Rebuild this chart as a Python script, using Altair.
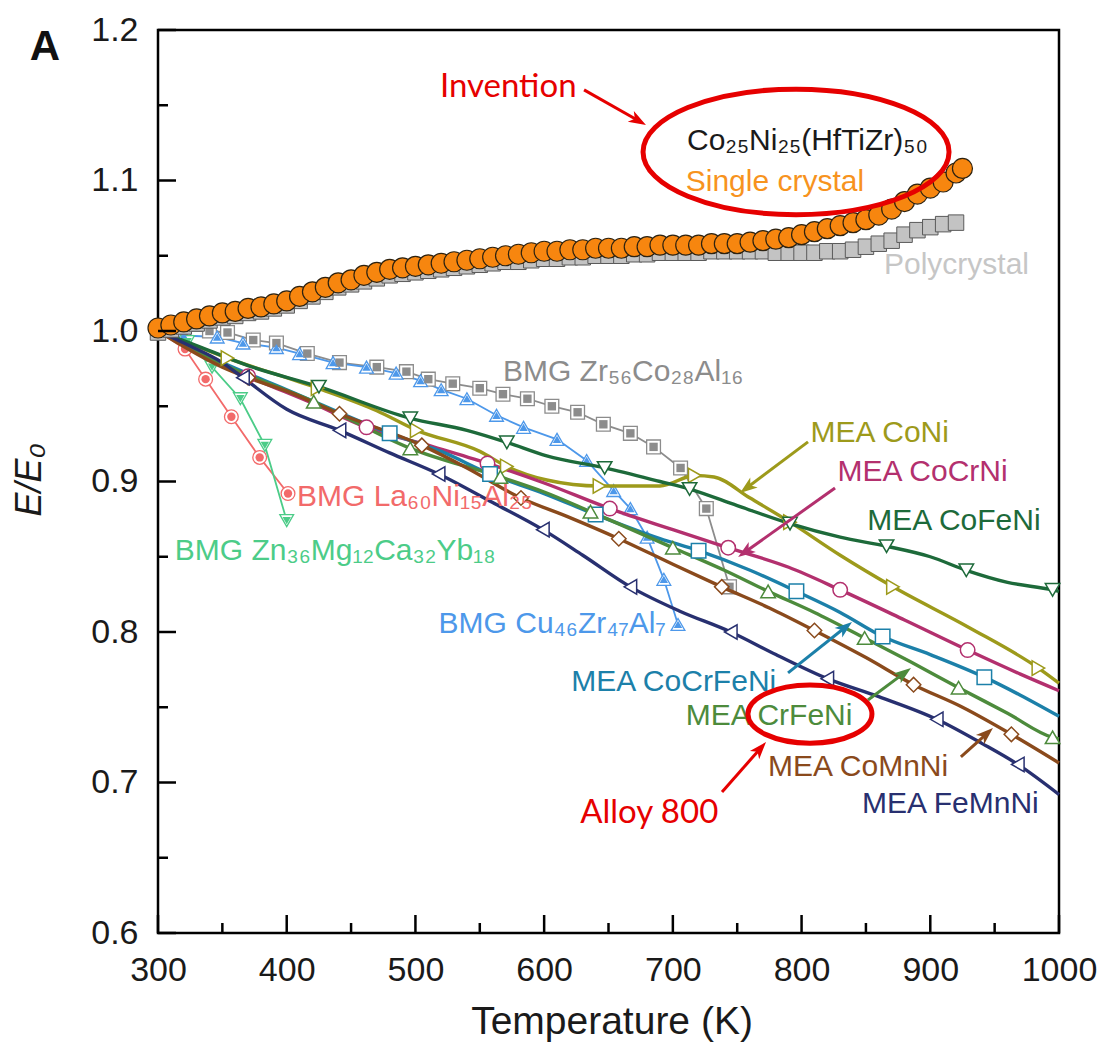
import math
import altair as alt
import pandas as pd

# ---------------- plot geometry ----------------
W, H = 901, 903
X_DOMAIN = [300, 1000]
Y_DOMAIN = [0.6, 1.2]
KX = W / (X_DOMAIN[1] - X_DOMAIN[0])
KY = H / (Y_DOMAIN[1] - Y_DOMAIN[0])

# ---------------- tick values ----------------
X_MAJOR = [300, 400, 500, 600, 700, 800, 900, 1000]
X_MINOR = [350, 450, 550, 650, 750, 850, 950]
Y_MAJOR = [0.6, 0.7, 0.8, 0.9, 1.0, 1.1, 1.2]
Y_MINOR = [0.65, 0.75, 0.85, 0.95, 1.05, 1.15]

# ---------------- Co25Ni25(HfTiZr)50 single crystal ----------------
SC_T = [300, 310, 320, 330, 340, 350, 360, 370, 380, 390, 400, 410, 420, 430, 440, 450,
        460, 470, 480, 490, 500, 510, 520, 530, 540, 550, 560, 570, 580, 590, 600, 610,
        620, 630, 640, 650, 660, 670, 680, 690, 700, 710, 720, 730, 740, 750, 760, 770,
        780, 790, 800, 810, 820, 830, 840, 850, 860, 870, 880, 890, 900, 910, 920, 925]
SC_E = [1.002, 1.004, 1.006, 1.008, 1.010, 1.012, 1.013, 1.015, 1.016, 1.018, 1.020, 1.023,
        1.026, 1.029, 1.032, 1.034, 1.037, 1.039, 1.041, 1.042, 1.043, 1.044, 1.045, 1.046,
        1.047, 1.048, 1.049, 1.050, 1.051, 1.052, 1.053, 1.053, 1.054, 1.054, 1.055, 1.055,
        1.055, 1.056, 1.056, 1.057, 1.057, 1.057, 1.057, 1.058, 1.058, 1.058, 1.059, 1.060,
        1.061, 1.062, 1.064, 1.066, 1.068, 1.070, 1.072, 1.074, 1.077, 1.081, 1.086, 1.091,
        1.095, 1.099, 1.105, 1.108]

# ---------------- polycrystal ----------------
PC_T = [300, 310, 320, 330, 340, 350, 360, 370, 380, 390, 400, 410, 420, 430, 440, 450,
        460, 470, 480, 490, 500, 510, 520, 530, 540, 550, 560, 570, 580, 590, 600, 610,
        620, 630, 640, 650, 660, 670, 680, 690, 700, 710, 720, 730, 740, 750, 760, 770,
        780, 790, 800, 810, 820, 830, 840, 850, 860, 870, 880, 890, 900, 910, 920]
PC_E = [0.999, 1.001, 1.003, 1.005, 1.007, 1.009, 1.010, 1.012, 1.013, 1.015, 1.017, 1.020,
        1.023, 1.026, 1.029, 1.031, 1.033, 1.035, 1.037, 1.038, 1.039, 1.040, 1.041, 1.042,
        1.043, 1.044, 1.045, 1.046, 1.046, 1.047, 1.048, 1.048, 1.049, 1.049, 1.050, 1.050,
        1.050, 1.051, 1.051, 1.052, 1.052, 1.052, 1.052, 1.053, 1.053, 1.053, 1.053, 1.053,
        1.052, 1.052, 1.052, 1.052, 1.053, 1.053, 1.054, 1.056, 1.058, 1.060, 1.064, 1.067,
        1.069, 1.071, 1.072]

# ---------------- MEA series (line points, marker temperatures) ----------------
CONI_T = [300, 354, 424, 470, 501, 550, 571, 602, 643, 690, 717, 732, 760, 791, 830, 871, 930, 984, 1000]
CONI_E = [1.000, 0.982, 0.962, 0.947, 0.934, 0.920, 0.910, 0.901, 0.897, 0.897, 0.904, 0.903,
          0.889, 0.873, 0.851, 0.830, 0.803, 0.776, 0.766]
CONI_MK = [354, 424, 501, 571, 643, 717, 791, 871, 984]

COCRNI_T = [300, 370, 420, 462, 514, 556, 600, 651, 700, 743, 790, 830, 880, 929, 970, 1000]
COCRNI_E = [1.000, 0.970, 0.952, 0.936, 0.923, 0.912, 0.899, 0.882, 0.868, 0.856, 0.843,
            0.828, 0.808, 0.788, 0.772, 0.761]
COCRNI_MK = [370, 462, 556, 651, 743, 830, 929]

COFENI_T = [300, 325, 370, 425, 496, 540, 571, 602, 647, 690, 713, 750, 791, 830, 866, 900,
            928, 960, 995, 1000]
COFENI_E = [1.000, 0.992, 0.977, 0.963, 0.942, 0.934, 0.926, 0.917, 0.909, 0.900, 0.895,
            0.884, 0.872, 0.863, 0.857, 0.850, 0.841, 0.833, 0.828, 0.827]
COFENI_MK = [425, 496, 571, 647, 713, 791, 866, 928, 995]

COCRFENI_T = [300, 350, 400, 480, 520, 558, 600, 640, 690, 720, 760, 796, 830, 863, 900, 942, 970, 1000]
COCRFENI_E = [1.000, 0.979, 0.961, 0.932, 0.920, 0.905, 0.892, 0.878, 0.862, 0.854, 0.841,
              0.827, 0.813, 0.797, 0.785, 0.770, 0.758, 0.744]
COCRFENI_MK = [480, 558, 640, 720, 796, 863, 942]

CRFENI_T = [300, 350, 421, 496, 566, 600, 636, 700, 740, 774, 810, 849, 885, 922, 960, 995, 1000]
CRFENI_E = [1.000, 0.978, 0.953, 0.922, 0.903, 0.893, 0.880, 0.856, 0.841, 0.827, 0.813,
            0.796, 0.780, 0.763, 0.746, 0.730, 0.729]
CRFENI_MK = [421, 496, 566, 636, 700, 774, 849, 922, 995]

COMNNI_T = [300, 350, 370, 400, 441, 505, 540, 582, 620, 658, 700, 738, 775, 810, 850, 887, 925, 963, 1000]
COMNNI_E = [1.000, 0.976, 0.969, 0.960, 0.945, 0.924, 0.909, 0.889, 0.876, 0.862, 0.845,
            0.830, 0.816, 0.801, 0.783, 0.765, 0.750, 0.732, 0.713]
COMNNI_MK = [370, 441, 505, 582, 658, 738, 810, 887, 963]

FEMNNI_T = [300, 325, 350, 366, 400, 441, 480, 518, 560, 599, 630, 667, 705, 745, 780, 820,
            860, 905, 940, 968, 1000]
FEMNNI_E = [1.000, 0.990, 0.979, 0.969, 0.948, 0.934, 0.919, 0.905, 0.886, 0.868, 0.851,
            0.830, 0.814, 0.800, 0.785, 0.769, 0.757, 0.742, 0.726, 0.712, 0.692]
FEMNNI_MK = [366, 441, 518, 599, 667, 745, 820, 905, 968]

# ---------------- BMG series ----------------
ZR_T = [300, 320, 340, 354, 374, 392, 416, 441, 470, 493, 510, 529, 550, 568, 587, 606, 626,
        646, 667, 685, 706, 726, 744]
ZR_E = [1.000, 1.000, 1.000, 0.999, 0.994, 0.992, 0.985, 0.979, 0.976, 0.973, 0.968, 0.965,
        0.962, 0.958, 0.955, 0.950, 0.946, 0.938, 0.932, 0.923, 0.909, 0.882, 0.830]
CU_T = [300, 320, 346, 366, 392, 410, 436, 462, 485, 504, 520, 540, 563, 584, 610, 633, 654,
        667, 680, 693, 704]
CU_E = [1.000, 0.997, 0.996, 0.992, 0.989, 0.985, 0.979, 0.976, 0.972, 0.967, 0.961, 0.955,
        0.944, 0.936, 0.928, 0.914, 0.894, 0.882, 0.863, 0.835, 0.805]
LA_T = [300, 321, 337, 357, 379, 401]
LA_E = [1.000, 0.988, 0.968, 0.943, 0.916, 0.892]
ZN_T = [300, 323, 342, 364, 383, 400]
ZN_E = [1.000, 0.993, 0.976, 0.955, 0.924, 0.874]

# ---------------- series styling ----------------
MEA = [("CoNi", CONI_T, CONI_E, CONI_MK, "#9d9a1b", "triangle-right"),
       ("CoCrNi", COCRNI_T, COCRNI_E, COCRNI_MK, "#b3306e", "circle"),
       ("CoFeNi", COFENI_T, COFENI_E, COFENI_MK, "#1d6a3a", "triangle-down"),
       ("CoCrFeNi", COCRFENI_T, COCRFENI_E, COCRFENI_MK, "#1c80a9", "square"),
       ("CrFeNi", CRFENI_T, CRFENI_E, CRFENI_MK, "#4d8b3c", "triangle-up"),
       ("CoMnNi", COMNNI_T, COMNNI_E, COMNNI_MK, "#8a4a1c", "diamond"),
       ("FeMnNi", FEMNNI_T, FEMNNI_E, FEMNNI_MK, "#283070", "triangle-left")]
BMG = [("Zr", ZR_T, ZR_E, "#8c8c8c", "square"),
       ("Cu", CU_T, CU_E, "#4d98ea", "triangle-up"),
       ("La", LA_T, LA_E, "#f26a6a", "circle"),
       ("Zn", ZN_T, ZN_E, "#4ccc88", "triangle-down")]

names = [m[0] for m in MEA] + [b[0] for b in BMG]
colors = [m[4] for m in MEA] + [b[3] for b in BMG]
shapes = [m[5] for m in MEA] + [b[4] for b in BMG]
cscale = alt.Scale(domain=names, range=colors)
sscale = alt.Scale(domain=names, range=shapes)

rows = []
for name, T, E, MK, _, _ in MEA:
    for t, e in zip(T, E):
        rows.append({"series": name, "T": t, "E": e, "mk": t in MK})
mea_df = pd.DataFrame(rows)
rows = []
for name, T, E, _, _ in BMG:
    for t, e in zip(T, E):
        rows.append({"series": name, "T": t, "E": e, "mk": t > 300})
bmg_df = pd.DataFrame(rows)
sc_df = pd.DataFrame({"T": SC_T, "E": SC_E})
pc_df = pd.DataFrame({"T": PC_T, "E": PC_E})

FONT = "Liberation Sans"
RED = "#e60000"

xs = alt.Scale(domain=X_DOMAIN, nice=False, zero=False)
ys = alt.Scale(domain=Y_DOMAIN, nice=False, zero=False)
AX = alt.Axis(values=X_MAJOR, format="d", ticks=False, domain=False, grid=False, labelFontSize=34,
              labelFont=FONT, labelColor="#1a1a1a", labelPadding=20, labelFlush=False,
              labelOverlap=False, title=None)
AY = alt.Axis(values=Y_MAJOR, format=".1f", ticks=False, domain=False, grid=False,
              labelFontSize=34, labelFont=FONT, labelColor="#1a1a1a", labelPadding=20,
              labelFlush=False, labelOverlap=False, title=None)


def X(f="T"):
    return alt.X(f"{f}:Q", scale=xs, axis=AX)


def Y(f="E"):
    return alt.Y(f"{f}:Q", scale=ys, axis=AY)


# BMG
bmg_lines = alt.Chart(bmg_df).mark_line(strokeWidth=1.8).encode(
    x=X(), y=Y(), color=alt.Color("series:N", scale=cscale, legend=None), detail="series:N")
bmg_open = alt.Chart(bmg_df).transform_filter("datum.mk").mark_point(
    filled=True, fill="white", size=190, strokeWidth=1.3, opacity=1).encode(
    x=X(), y=Y(), stroke=alt.Stroke("series:N", scale=cscale, legend=None),
    shape=alt.Shape("series:N", scale=sscale, legend=None))
bmg_half = alt.Chart(bmg_df).transform_filter("datum.mk").mark_point(
    filled=True, size=70, opacity=1, dx=3).encode(
    x=X(), y=Y(), color=alt.Color("series:N", scale=cscale, legend=None),
    shape=alt.Shape("series:N", scale=sscale, legend=None))

# MEA
mea_lines = alt.Chart(mea_df).mark_line(strokeWidth=3.4, interpolate="monotone").encode(
    x=X(), y=Y(), color=alt.Color("series:N", scale=cscale, legend=None), detail="series:N")
mea_pts = alt.Chart(mea_df).transform_filter("datum.mk").mark_point(
    filled=True, fill="white", size=210, strokeWidth=1.5, opacity=1).encode(
    x=X(), y=Y(), stroke=alt.Stroke("series:N", scale=cscale, legend=None),
    shape=alt.Shape("series:N", scale=sscale, legend=None))

# polycrystal and single crystal
pc_pts = alt.Chart(pc_df).mark_point(shape="square", filled=True, fill="#c3c3c3", stroke="#5a5a5a",
                                     strokeWidth=1, size=240, opacity=1).encode(x=X(), y=Y())
sc_pts = alt.Chart(sc_df).mark_point(shape="circle", filled=True, fill="#f7860f", stroke="#2d2210",
                                     strokeWidth=1.2, size=400, opacity=1).encode(x=X(), y=Y())

# ---------------- annotations ----------------
LABELS = [("BMG Zr₅₆Co₂₈Al₁₆", 568, 0.973, "#8c8c8c"),
          ("MEA CoNi", 807, 0.932, "#9d9a1b"),
          ("MEA CoCrNi", 828, 0.906, "#b3306e"),
          ("MEA CoFeNi", 851, 0.874, "#1d6a3a"),
          ("BMG La₆₀Ni₁₅Al₂₅", 408, 0.890, "#f26a6a"),
          ("BMG Zn₃₆Mg₁₂Ca₃₂Yb₁₈", 313, 0.854, "#4ccc88"),
          ("BMG Cu₄₆Zr₄₇Al₇", 518, 0.805, "#4d98ea"),
          ("MEA CoCrFeNi", 621, 0.767, "#1c80a9"),
          ("MEA CrFeNi", 710, 0.744, "#4d8b3c"),
          ("MEA CoMnNi", 774, 0.710, "#8a4a1c"),
          ("MEA FeMnNi", 847, 0.686, "#283070"),
          ("Co₂₅Ni₂₅(HfTiZr)₅₀", 711, 1.126, "#1a1a1a"),
          ("Single crystal", 710, 1.099, "#f7931e"),
          ("Polycrystal", 864, 1.044, "#c6c6c6")]
lbl_df = pd.DataFrame(LABELS, columns=["label", "T", "E", "color"])
labels = alt.Chart(lbl_df).mark_text(align="left", baseline="middle", font=FONT, fontSize=30).encode(
    x=X(), y=Y(), text="label:N", color=alt.Color("color:N", scale=None))

RED_LABELS = [("Invention", 519, 1.162), ("Alloy 800", 628, 0.680)]
red_df = pd.DataFrame(RED_LABELS, columns=["label", "T", "E"])
red_labels = alt.Chart(red_df).mark_text(align="left", baseline="middle", font="Lato", fontSize=33,
                                         color=RED).encode(x=X(), y=Y(), text="label:N")

ARROWS = [(631.0, 1.1602, 679.1, 1.1369, RED),
          (738.2, 0.6937, 772.4, 0.7269, RED),
          (805.0, 0.9263, 752.2, 0.8924, "#9d9a1b"),
          (826.0, 0.8957, 750.7, 0.8498, "#b3306e"),
          (789.5, 0.7728, 839.2, 0.8067, "#1c80a9"),
          (851.6, 0.7548, 885.0, 0.7761, "#4d8b3c"),
          (923.8, 0.7170, 948.7, 0.7362, "#8a4a1c")]
arows = []
for t1, e1, t2, e2, col in ARROWS:
    dx = (t2 - t1) * KX
    dy = -(e2 - e1) * KY
    L = math.hypot(dx, dy)
    ux, uy = dx / L, dy / L
    ang = math.degrees(math.atan2(dx, -dy)) % 360
    arows.append({"T": t1, "E": e1, "Tb": t2 - 9 * ux / KX, "Eb": e2 + 9 * uy / KY,
                  "T2": t2, "E2": e2, "ang": ang, "color": col})
arr_df = pd.DataFrame(arows)
ARROW_PATH = "M 0 0 L 0.6 1.7 L 0 1.25 L -0.6 1.7 Z"
arrow_lines = alt.Chart(arr_df).mark_rule(strokeWidth=3).encode(
    x=X(), y=Y(), x2="Tb:Q", y2="Eb:Q", color=alt.Color("color:N", scale=None))
arrow_heads = alt.Chart(arr_df).mark_point(shape=ARROW_PATH, filled=True, size=420, opacity=1).encode(
    x=X("T2"), y=Y("E2"), angle=alt.Angle("ang:Q", scale=None), color=alt.Color("color:N", scale=None))


def ellipse_path(r):
    k = 0.5523
    return (f"M -1 0 C -1 {-k*r:.4f} {-k:.4f} {-r:.4f} 0 {-r:.4f} "
            f"C {k:.4f} {-r:.4f} 1 {-k*r:.4f} 1 0 "
            f"C 1 {k*r:.4f} {k:.4f} {r:.4f} 0 {r:.4f} "
            f"C {-k:.4f} {r:.4f} -1 {k*r:.4f} -1 0 Z")


ell1 = alt.Chart(pd.DataFrame({"T": [795.7], "E": [1.119]})).mark_point(
    shape=ellipse_path(0.41), size=306 ** 2, filled=False, color=RED, strokeWidth=5, opacity=1
).encode(x=X(), y=Y())
ell2 = alt.Chart(pd.DataFrame({"T": [806.5], "E": [0.7455]})).mark_point(
    shape=ellipse_path(0.47), size=124 ** 2, filled=False, color=RED, strokeWidth=5, opacity=1
).encode(x=X(), y=Y())

# ---------------- inward ticks ----------------
ytick_major = alt.Chart(pd.DataFrame({"E": Y_MAJOR})).mark_rule(strokeWidth=2.5, color="black").encode(
    y=Y(), x=alt.value(0), x2=alt.value(18))
ytick_minor = alt.Chart(pd.DataFrame({"E": Y_MINOR})).mark_rule(strokeWidth=2.5, color="black").encode(
    y=Y(), x=alt.value(0), x2=alt.value(10))
xtick_major = alt.Chart(pd.DataFrame({"T": X_MAJOR})).mark_rule(strokeWidth=2.5, color="black").encode(
    x=X(), y=alt.value(H), y2=alt.value(H - 18))
xtick_minor = alt.Chart(pd.DataFrame({"T": X_MINOR})).mark_rule(strokeWidth=2.5, color="black").encode(
    x=X(), y=alt.value(H), y2=alt.value(H - 10))

# ---------------- titles ----------------
one = pd.DataFrame({"a": [0]})
ytitle = alt.Chart(one).mark_text(text="E/E₀", font=FONT, fontSize=36, fontStyle="italic", angle=270,
                                  align="center", baseline="middle", color="#1a1a1a").encode(
    x=alt.value(-128), y=alt.value(450))
xtitle = alt.Chart(one).mark_text(text="Temperature (K)", font=FONT, fontSize=39, align="center",
                                  baseline="middle", color="#1a1a1a").encode(
    x=alt.value(454), y=alt.value(992))
panel = alt.Chart(one).mark_text(text="A", font=FONT, fontSize=42, fontWeight="bold", align="center",
                                 baseline="middle", color="#111111").encode(
    x=alt.value(-113), y=alt.value(17))

chart = alt.layer(
    bmg_lines, bmg_open, bmg_half, mea_lines, mea_pts, pc_pts, sc_pts,
    labels, red_labels, arrow_lines, arrow_heads, ell1, ell2,
    ytick_major, ytick_minor, xtick_major, xtick_minor, ytitle, xtitle, panel
).properties(
    width=W, height=H,
    autosize=alt.AutoSizeParams(type="none"),
    padding={"left": 158, "top": 30, "right": 50, "bottom": 112},
).configure_view(stroke="black", strokeWidth=2.5)

chart.save("out.html", embed_options={"renderer": "svg", "actions": False})
